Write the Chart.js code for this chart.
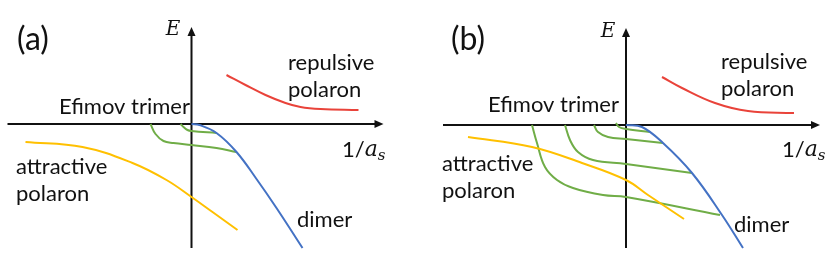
<!DOCTYPE html>
<html>
<head>
<meta charset="utf-8">
<script src="https://cdn.jsdelivr.net/npm/chart.js@4"></script>
<style>
  body { margin: 0; background: #fff; }
  .wrap { position: relative; width: 830px; height: 259px; }
  canvas { position: absolute; top: 0; }
</style>
</head>
<body>
<div class="wrap">
  <canvas id="panel-a" width="415" height="259" style="left:0"></canvas>
  <canvas id="panel-b" width="415" height="259" style="left:415px"></canvas>
</div>
<script>
// data: x = 1/a_s, y = E (schematic units, origin where the axes cross)

// panel (a)
const repulsiveA = [[3.5, 4.9], [5.4, 3.9], [7.4, 2.9], [9.4, 2.1], [10.9, 1.7], [12.9, 1.5], [16.7, 1.4]];
const dimerA = [[0, 0], [0.8, -0.1], [2.5, -0.9], [4.5, -2.8], [6.5, -5.5], [8.5, -8.4], [11.1, -12.4]];
const attractiveA = [[-16.6, -1.8], [-10.9, -2.3], [-5.9, -3.9], [-2.5, -5.6], [0, -7.3], [2.1, -8.8], [4.6, -10.6]];
const trimersA = [
    [[-4.1, 0], [-3.6, -1.0], [-2.8, -1.7], [-1.8, -1.9], [0, -2.1], [2.5, -2.4], [4.5, -2.8]],
    [[-1.1, 0], [-0.8, -0.3], [-0.4, -0.6], [0, -0.7], [2.5, -0.9]]
];

// panel (b)
const repulsiveB = [[3.6, 4.8], [5.6, 3.7], [8.9, 2.2], [12.2, 1.4], [16.8, 1.2]];
const dimerB = [[0, 0], [1.6, -0.2], [3.7, -1.8], [6.6, -4.8], [9.6, -9.0], [11.7, -12.3]];
const attractiveB = [[-15.8, -1.2], [-9.4, -2.2], [-4.4, -3.8], [0, -5.5], [2.2, -7.0], [5.8, -9.4]];
const trimersB = [
    [[-9.4, 0], [-8.9, -1.8], [-8.1, -4.2], [-6.9, -5.5], [-5.3, -6.3], [-2.3, -7.0], [0, -7.2], [9.4, -9.0]],
    [[-6.1, 0], [-5.6, -1.5], [-4.8, -2.7], [-3.3, -3.5], [0, -3.9], [6.6, -4.8]],
    [[-3.2, 0], [-2.8, -0.7], [-1.8, -1.2], [0, -1.4], [3.7, -1.8]],
    [[-1.0, 0.2], [-0.7, -0.2], [0, -0.4], [2.4, -0.7]]
];

const RED = 'rgb(233, 67, 58)';
const BLUE = 'rgb(68, 114, 196)';
const YELLOW = 'rgb(255, 192, 0)';
const GREEN = 'rgb(112, 173, 71)';
const TEXT_FONT = 'Lato, "Open Sans", sans-serif';
const MATH_FONT = '"DejaVu Serif", "Liberation Serif", serif';

function toPoints(pairs) {
    return pairs.map(p => ({ x: p[0], y: p[1] }));
}

function curve(pairs, color) {
    return {
        data: toPoints(pairs),
        showLine: true,
        borderColor: color,
        borderWidth: 2,
        pointRadius: 0,
        tension: 0.4,
        fill: false
    };
}

function arrowHead(ctx, x, y, dir) {
    ctx.beginPath();
    if (dir === 'right') {
        ctx.moveTo(x, y);
        ctx.lineTo(x - 9, y - 4);
        ctx.lineTo(x - 9, y + 4);
    } else {
        ctx.moveTo(x, y);
        ctx.lineTo(x - 4, y + 9);
        ctx.lineTo(x + 4, y + 9);
    }
    ctx.closePath();
    ctx.fill();
}

// draws the two axes with arrows and the text labels
function schemePlugin(opts) {
    return {
        id: 'scheme',
        beforeDatasetsDraw(chart) {
            const ctx = chart.ctx;
            const xs = chart.scales.x, ys = chart.scales.y;
            const x0 = xs.getPixelForValue(0), y0 = ys.getPixelForValue(0);
            ctx.save();
            ctx.strokeStyle = '#111';
            ctx.fillStyle = '#111';
            ctx.lineWidth = 2;
            ctx.beginPath();
            ctx.moveTo(xs.getPixelForValue(opts.xAxis[0]), y0);
            ctx.lineTo(xs.getPixelForValue(opts.xAxis[1]) - 6, y0);
            ctx.moveTo(x0, ys.getPixelForValue(opts.yAxis[0]));
            ctx.lineTo(x0, ys.getPixelForValue(opts.yAxis[1]) + 6);
            ctx.stroke();
            arrowHead(ctx, xs.getPixelForValue(opts.xAxis[1]), y0, 'right');
            arrowHead(ctx, x0, ys.getPixelForValue(opts.yAxis[1]), 'up');
            ctx.restore();
        },
        afterDraw(chart) {
            const ctx = chart.ctx;
            const xs = chart.scales.x, ys = chart.scales.y;
            ctx.save();
            ctx.fillStyle = '#111';
            ctx.textBaseline = 'middle';
            ctx.textAlign = 'left';
            opts.labels.forEach(l => {
                ctx.font = l.font;
                ctx.fillText(l.text, xs.getPixelForValue(l.at[0]), ys.getPixelForValue(l.at[1]));
            });
            // E
            ctx.font = 'italic 20px ' + MATH_FONT;
            ctx.textAlign = 'center';
            ctx.fillText('E', xs.getPixelForValue(opts.eAt[0]), ys.getPixelForValue(opts.eAt[1]));
            // 1/a_s
            ctx.textAlign = 'left';
            let px = xs.getPixelForValue(opts.invAt[0]);
            const py = ys.getPixelForValue(opts.invAt[1]);
            ctx.font = '22px ' + TEXT_FONT;
            ctx.fillText('1/', px, py);
            px += ctx.measureText('1/').width;
            ctx.font = 'italic 22px ' + MATH_FONT;
            ctx.fillText('a', px, py);
            px += ctx.measureText('a').width;
            ctx.font = 'italic 15px ' + MATH_FONT;
            ctx.fillText('s', px, py + 6);
            ctx.restore();
        }
    };
}

function makePanel(id, range, datasets, opts) {
    new Chart(document.getElementById(id), {
        type: 'scatter',
        data: { datasets: datasets },
        options: {
            responsive: false,
            animation: false,
            layout: { padding: 0 },
            plugins: { legend: { display: false }, tooltip: { enabled: false } },
            scales: {
                x: { type: 'linear', display: false, min: range.x[0], max: range.x[1] },
                y: { type: 'linear', display: false, min: range.y[0], max: range.y[1] }
            }
        },
        plugins: [schemePlugin(opts)]
    });
}

function labelsFor(tag, pos) {
    const f = '22px ' + TEXT_FONT;
    return [
        { text: tag, at: pos.tag, font: '32px ' + TEXT_FONT },
        { text: 'repulsive', at: pos.rep, font: f },
        { text: 'polaron', at: [pos.rep[0], pos.rep[1] - pos.gap], font: f },
        { text: 'Efimov trimer', at: pos.efi, font: f },
        { text: 'attractive', at: pos.att, font: f },
        { text: 'polaron', at: [pos.att[0], pos.att[1] - pos.gap], font: f },
        { text: 'dimer', at: pos.dim, font: f }
    ];
}

makePanel('panel-a',
    { x: [-19.15, 22.35], y: [-13.5, 12.4] },
    [curve(repulsiveA, RED), curve(dimerA, BLUE), curve(attractiveA, YELLOW)]
        .concat(trimersA.map(t => curve(t, GREEN))),
    {
        xAxis: [-18.4, 19.2], yAxis: [-12.4, 9.7],
        eAt: [-1.85, 9.4], invAt: [15.05, -2.6],
        labels: labelsFor('(a)', { tag: [-17.45, 8.4], rep: [9.65, 6.1], efi: [-13.25, 1.7], att: [-17.55, -4.3], dim: [10.55, -9.6], gap: 2.7 })
    });

makePanel('panel-b',
    { x: [-21.1, 20.4], y: [-13.4, 12.5] },
    [curve(repulsiveB, RED), curve(dimerB, BLUE), curve(attractiveB, YELLOW)]
        .concat(trimersB.map(t => curve(t, GREEN))),
    {
        xAxis: [-18.3, 19.4], yAxis: [-12.3, 9.7],
        eAt: [-1.8, 9.3], invAt: [15.6, -2.5],
        labels: labelsFor('(b)', { tag: [-17.5, 8.5], rep: [9.5, 6.3], efi: [-13.8, 2.0], att: [-18.4, -3.9], dim: [10.8, -10.0], gap: 2.7 })
    });
</script>
</body>
</html>
